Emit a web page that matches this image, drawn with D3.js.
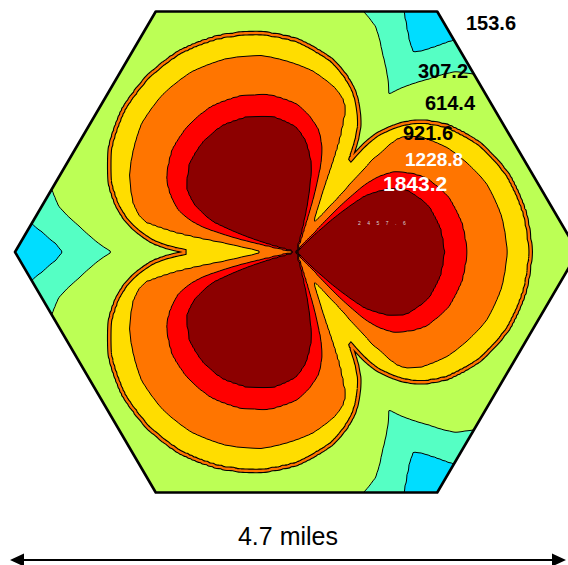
<!DOCTYPE html>
<html>
<head>
<meta charset="utf-8">
<script src="https://cdn.jsdelivr.net/npm/d3@7"></script>
<style>
  body { margin: 0; background: #fff; }
  svg { display: block; font-family: Arial, "Liberation Sans", sans-serif; }
</style>
</head>
<body>
<svg id="chart" width="568" height="565"></svg>
<script>
// lower edge of each rate band (kbps) and the band colours (first = below 76.8)
const thresholds = [76.8, 153.6, 307.2, 614.4, 921.6, 1228.8, 1843.2];
const bandColors = ["#2d5bff", "#00ddff", "#55ffc4", "#bcff55", "#ffdd00", "#ff7500", "#ff0000", "#8c0000"];
const rateLabels = ["153.6", "307.2", "614.4", "921.6", "1228.8", "1843.2", "2457.6"];

// three sectors, boresight azimuths in degrees
const sectorAzimuths = [0, 120, 240];

// distance (miles) from the site to the outer edge of each band
// along rays at these offsets (deg) from the sector boresight; 0 = band not reached
const offsetAngles = [0, 10, 20, 30, 35, 40, 43, 45, 47, 49, 51, 53, 56, 58, 60];
const edge768  = [5.06, 4.98, 4.81, 4.56, 4.39, 4.14, 3.97, 3.84, 3.71, 3.54, 3.38, 3.21, 2.78, 2.53, 2.33];
const edge1536 = [3.80, 3.71, 3.54, 3.38, 3.21, 2.95, 2.78, 2.68, 2.57, 2.46, 2.36, 2.26, 2.10, 2.01, 1.95];
const edge3072 = [2.91, 2.87, 2.78, 2.66, 2.53, 2.36, 2.22, 2.12, 2.07, 2.02, 1.93, 1.83, 1.71, 1.63, 1.54];
const edge6144 = [1.95, 1.93, 1.88, 1.79, 1.72, 1.65, 1.59, 1.55, 1.50, 1.45, 1.39, 1.32, 1.20, 1.07, 0.89];
const edge9216 = [1.76, 1.74, 1.69, 1.59, 1.54, 1.47, 1.43, 1.39, 1.35, 1.27, 1.01, 0.57, 0.38, 0.32, 0.29];
const edge12288 = [1.42, 1.40, 1.35, 1.25, 1.16, 1.05, 0.93, 0.80, 0.51, 0, 0, 0, 0, 0, 0];
const edge18432 = [1.24, 1.22, 1.17, 1.06, 0.94, 0.74, 0.38, 0, 0, 0, 0, 0, 0, 0, 0];
const bandEdges = [edge768, edge1536, edge3072, edge6144, edge9216, edge12288, edge18432];

const cellRadius = 2.35;      // miles, centre to corner
const spanLabel = "4.7 miles";

const svg = d3.select("#chart");

const x = d3.scaleLinear().domain([-cellRadius, cellRadius]).range([15, 578]);
const apothem = cellRadius * Math.sqrt(3) / 2;
const y = d3.scaleLinear().domain([-apothem, apothem]).range([492.5, 11.5]);

const color = d3.scaleThreshold().domain(thresholds).range(bandColors);

// hexagon cell outline
const hexPts = d3.range(6).map(i => {
  const a = i * Math.PI / 3;
  return [x(cellRadius * Math.cos(a)), y(cellRadius * Math.sin(a))];
});
const hexString = hexPts.map(p => p.join(",")).join(" ");

svg.append("defs").append("clipPath").attr("id", "hex")
  .append("polygon").attr("points", hexString);

// rate field sampled on a pixel grid
const edgeScales = bandEdges.map(e => d3.scaleLinear().domain(offsetAngles).range(e));

function rateAt(mx, my) {
  const r = Math.hypot(mx, my);
  const az = Math.atan2(my, mx) * 180 / Math.PI;
  const off = d3.min(sectorAzimuths, a => Math.abs((((az - a) % 360) + 540) % 360 - 180));
  const radii = [], rates = [];
  for (let k = thresholds.length - 1; k >= 0; k--) {
    const e = edgeScales[k](off);
    if (e > 0.004) { radii.push(e); rates.push(thresholds[k]); }
  }
  const m = radii.length;
  const centre = m === thresholds.length ? 2457.6 : (thresholds[m - 1] + thresholds[m]) / 2;
  return d3.scaleLinear().domain([0, ...radii]).range([centre, ...rates])(r);
}

const step = 2, gx0 = 0, gy0 = 0;
const cols = 292, rows = 252;
const values = new Float64Array(cols * rows);
for (let j = 0; j < rows; j++) {
  const my = y.invert(gy0 + (j + 0.5) * step);
  for (let i = 0; i < cols; i++) {
    values[j * cols + i] = rateAt(x.invert(gx0 + (i + 0.5) * step), my);
  }
}

const contours = d3.contours().size([cols, rows]).thresholds(thresholds)(values);
const path = d3.geoPath(d3.geoIdentity().scale(step).translate([gx0, gy0]));

const map = svg.append("g").attr("clip-path", "url(#hex)");

map.append("polygon")
  .attr("points", hexString)
  .attr("fill", bandColors[0]);

map.selectAll("path.band")
  .data(contours)
  .join("path")
  .attr("class", "band")
  .attr("d", path)
  .attr("fill", d => color(d.value))
  .attr("stroke", "#000")
  .attr("stroke-width", 1)
  .attr("stroke-linejoin", "round");

// the 614.4 edge is drawn as a double line with orange between
const edge = contours.find(c => c.value === 614.4);
map.append("path").attr("d", path(edge)).attr("fill", "none")
  .attr("stroke", "#000").attr("stroke-width", 4.6);
map.append("path").attr("d", path(edge)).attr("fill", "none")
  .attr("stroke", bandColors[5]).attr("stroke-width", 2.4);

svg.append("polygon")
  .attr("points", hexString)
  .attr("fill", "none")
  .attr("stroke", "#000")
  .attr("stroke-width", 2.6)
  .attr("stroke-linejoin", "round");

// rate labels
const labelLayout = [
  {x: 466, y: 30, size: 20, fill: "#000"},
  {x: 418, y: 78, size: 20, fill: "#000"},
  {x: 425, y: 110, size: 20, fill: "#000"},
  {x: 403, y: 140, size: 20, fill: "#000"},
  {x: 405, y: 166, size: 19, fill: "#fff"},
  {x: 383, y: 191, size: 21, fill: "#fff"}
];
svg.selectAll("text.rate")
  .data(labelLayout)
  .join("text")
  .attr("class", "rate")
  .attr("x", d => d.x)
  .attr("y", d => d.y)
  .attr("font-size", d => d.size)
  .attr("font-weight", "bold")
  .attr("fill", d => d.fill)
  .text((d, i) => rateLabels[i]);

// tiny label of the top band
svg.append("text")
  .attr("x", 358).attr("y", 225)
  .attr("font-size", 5)
  .attr("letter-spacing", 6.5)
  .attr("fill", "#d9d9d9")
  .text(rateLabels[6]);

// scale bar
const barY = 560, barL = 10, barR = 566;
svg.append("line")
  .attr("x1", barL + 8).attr("x2", barR - 8)
  .attr("y1", barY).attr("y2", barY)
  .attr("stroke", "#000").attr("stroke-width", 2);
svg.append("path")
  .attr("d", `M${barL},${barY} L${barL + 14},${barY - 6.5} L${barL + 14},${barY + 6.5} Z`
    + `M${barR},${barY} L${barR - 14},${barY - 6.5} L${barR - 14},${barY + 6.5} Z`)
  .attr("fill", "#000");
svg.append("text")
  .attr("x", (barL + barR) / 2)
  .attr("y", 545)
  .attr("text-anchor", "middle")
  .attr("font-size", 25)
  .attr("fill", "#000")
  .text(spanLabel);
</script>
</body>
</html>
